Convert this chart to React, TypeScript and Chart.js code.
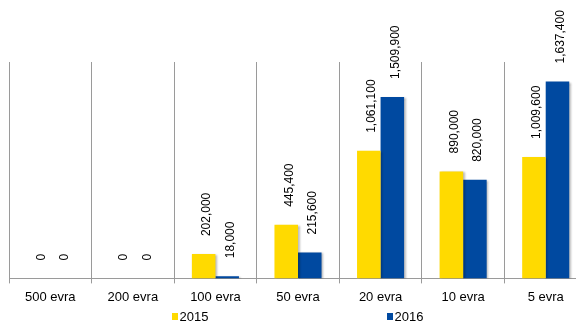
import React, { useEffect, useRef } from "react";
import { Chart, registerables } from "chart.js";

Chart.register(...registerables);

const categories = ["500 evra", "200 evra", "100 evra", "50 evra", "20 evra", "10 evra", "5 evra"];
const series2015 = [0, 0, 202000, 445400, 1061100, 890000, 1009600];
const series2016 = [0, 0, 18000, 215600, 1509900, 820000, 1637400];
const seriesNames = ["2015", "2016"];
const colors = ["#FFDA00", "#0049A0"];
const yMax = 1800000;

const FONT = "'Liberation Sans', Arial, sans-serif";

const shadowPlugin = {
  id: "barShadow",
  beforeDatasetsDraw(chart: any) {
    const ctx = chart.ctx;
    ctx.save();
    ctx.shadowColor = "rgba(0,0,0,0.28)";
    ctx.shadowOffsetX = 1.5;
    ctx.shadowOffsetY = 1;
    ctx.shadowBlur = 2;
  },
  afterDatasetsDraw(chart: any) {
    chart.ctx.restore();
  },
};

const labelPlugin = {
  id: "valueLabels",
  afterDatasetsDraw(chart: any) {
    const ctx = chart.ctx;
    ctx.save();
    ctx.font = `12px ${FONT}`;
    ctx.fillStyle = "#000";
    ctx.textAlign = "left";
    ctx.textBaseline = "middle";
    chart.data.datasets.forEach((ds: any, di: number) => {
      const meta = chart.getDatasetMeta(di);
      meta.data.forEach((bar: any, i: number) => {
        const v = ds.data[i];
        const text = v.toLocaleString("en-US");
        ctx.save();
        ctx.translate(bar.x + 3, bar.y - 18);
        ctx.rotate(-Math.PI / 2);
        ctx.fillText(text, 0, 0);
        ctx.restore();
      });
    });
    ctx.restore();
  },
};

const legendPlugin = {
  id: "customLegend",
  afterDraw(chart: any) {
    const ctx = chart.ctx;
    const cx = chart.width / 2;
    const y = 309;
    const starts = [cx - 126, cx + 89];
    ctx.save();
    ctx.font = `13px ${FONT}`;
    ctx.textBaseline = "middle";
    ctx.textAlign = "left";
    seriesNames.forEach((name, i) => {
      ctx.fillStyle = colors[i];
      ctx.fillRect(starts[i], y - 4, 6, 7);
      ctx.fillStyle = "#000";
      ctx.fillText(name, starts[i] + 7.5, y);
    });
    ctx.restore();
  },
};

export default function App() {
  const ref = useRef<HTMLCanvasElement | null>(null);
  useEffect(() => {
    if (!ref.current) return;
    const chart = new Chart(ref.current, {
      type: "bar",
      data: {
        labels: categories,
        datasets: [
          { label: seriesNames[0], data: series2015, backgroundColor: colors[0] },
          { label: seriesNames[1], data: series2016, backgroundColor: colors[1] },
        ],
      },
      options: {
        responsive: false,
        animation: false,
        devicePixelRatio: 1,
        layout: { padding: { top: 54, bottom: 12, left: 1, right: 1 } },
        datasets: { bar: { categoryPercentage: 0.57, barPercentage: 1.0 } },
        plugins: { legend: { display: false }, tooltip: { enabled: false } },
        scales: {
          x: {
            grid: { offset: true, color: "#9a9a9a", lineWidth: 1, drawTicks: true, tickLength: 5 },
            border: { display: true, color: "#9a9a9a", width: 1 },
            ticks: { font: { family: FONT, size: 13 }, color: "#000", padding: 6, maxRotation: 0 },
          },
          y: { display: false, min: 0, max: yMax },
        },
      },
      plugins: [shadowPlugin, labelPlugin, legendPlugin],
    } as any);
    return () => chart.destroy();
  }, []);
  return (
    <div style={{ width: 576, height: 315, overflow: "hidden" }}>
      <canvas ref={ref} width={580} height={315} style={{ display: "block" }} />
    </div>
  );
}
